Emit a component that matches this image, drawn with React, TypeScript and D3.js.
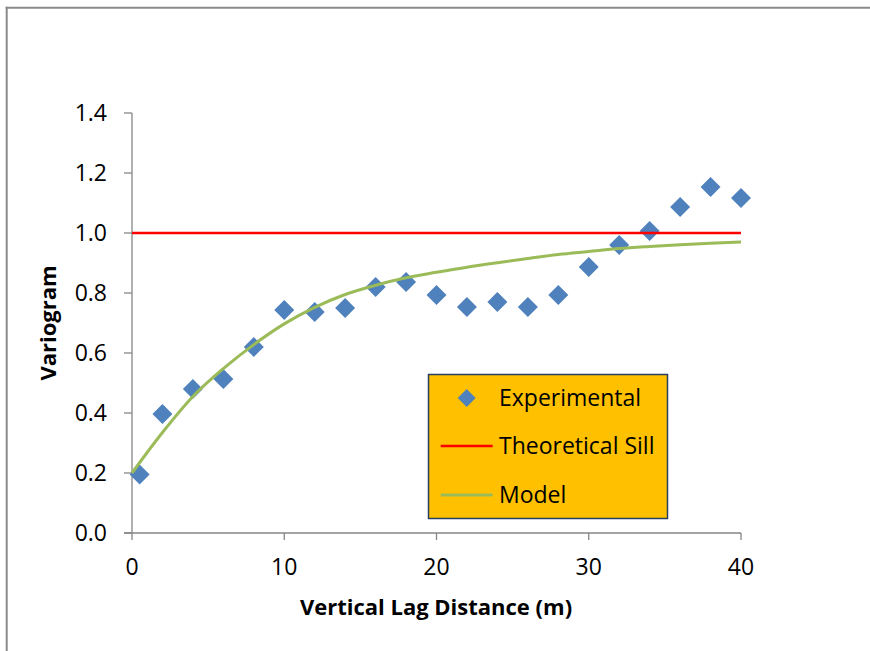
import React from "react";
import * as d3 from "d3";

const lagExp = [0.5, 2, 4, 6, 8, 10, 12, 14, 16, 18, 20, 22, 24, 26, 28, 30, 32, 34, 36, 38, 40];
const gammaExp = [0.195, 0.397, 0.48, 0.513, 0.62, 0.743, 0.737, 0.75, 0.82, 0.837, 0.793, 0.753, 0.77, 0.753, 0.793, 0.887, 0.96, 1.007, 1.087, 1.153, 1.117];

const lagModel = [0, 2, 4, 6, 8, 10, 12, 14, 16, 18, 20, 22, 24, 26, 28, 30, 32, 34, 36, 38, 40];
const gammaModel = [0.2, 0.335, 0.455, 0.548, 0.628, 0.697, 0.752, 0.795, 0.826, 0.851, 0.869, 0.886, 0.901, 0.915, 0.928, 0.938, 0.948, 0.955, 0.961, 0.966, 0.97];

const sillLag = [0, 40];
const sillValue = [1.0, 1.0];

const xTicks = [0, 10, 20, 30, 40];
const yTicks = [0, 0.2, 0.4, 0.6, 0.8, 1.0, 1.2, 1.4];

const legendLabels = ["Experimental", "Theoretical Sill", "Model"];

const W = 870;
const H = 651;
const FONT = "'Open Sans', 'Noto Sans', sans-serif";

export default function App() {
  const x = d3.scaleLinear().domain([0, 40]).range([132, 741]);
  const y = d3.scaleLinear().domain([0, 1.4]).range([533, 113]);

  const modelPath = d3
    .line<number>()
    .x((_, i) => x(lagModel[i]))
    .y((d) => y(d))
    .curve(d3.curveMonotoneX)(gammaModel) as string;

  const sillPath = d3
    .line<number>()
    .x((_, i) => x(sillLag[i]))
    .y((d) => y(d))(sillValue) as string;

  const diamond = (cx: number, cy: number, r: number) =>
    `M${cx},${cy - r}L${cx + r},${cy}L${cx},${cy + r}L${cx - r},${cy}Z`;

  const axisColor = "#868686";
  const blue = "#4F81BD";
  const red = "#FF0000";
  const green = "#9BBB59";

  const lgX = 428.5;
  const lgY = 374.5;
  const lgW = 239;
  const lgH = 144;
  const rows = [398, 446, 495];

  return (
    <svg
      width={W}
      height={H}
      style={{ position: "absolute", left: 0, top: 0, background: "#fff" }}
      fontFamily={FONT}
    >
      <rect x={0} y={0} width={W} height={H} fill="#fff" />
      {/* outer frame */}
      <line x1={6.7} y1={6.7} x2={6.7} y2={H} stroke="#8a8a8a" strokeWidth={2} />
      <line x1={5.7} y1={7.7} x2={W} y2={7.7} stroke="#8a8a8a" strokeWidth={2} />

      {/* axes */}
      <line x1={x(0)} y1={y(1.4)} x2={x(0)} y2={y(0)} stroke={axisColor} strokeWidth={1.3} />
      <line x1={x(0) - 8} y1={y(0)} x2={x(40)} y2={y(0)} stroke={axisColor} strokeWidth={1.3} />
      {yTicks.map((t) => (
        <g key={"y" + t}>
          <line x1={x(0) - 8} x2={x(0)} y1={y(t)} y2={y(t)} stroke={axisColor} strokeWidth={1.3} />
          <text x={107} y={y(t)} dy="0.35em" textAnchor="end" fontSize={23} fill="#000">
            {t.toFixed(1)}
          </text>
        </g>
      ))}
      {xTicks.map((t) => (
        <g key={"x" + t}>
          <line x1={x(t)} x2={x(t)} y1={y(0)} y2={y(0) + 7} stroke={axisColor} strokeWidth={1.3} />
          <text x={x(t)} y={567} dy="0.35em" textAnchor="middle" fontSize={23} fill="#000">
            {t}
          </text>
        </g>
      ))}

      {/* axis titles */}
      <text x={436} y={607} dy="0.35em" textAnchor="middle" fontSize={22} fontWeight="bold" fill="#000">
        Vertical Lag Distance (m)
      </text>
      <text
        transform={`translate(48,323) rotate(-90)`}
        dy="0.35em"
        textAnchor="middle"
        fontSize={22}
        fontWeight="bold"
        fill="#000"
      >
        Variogram
      </text>

      {/* experimental points */}
      {gammaExp.map((g, i) => (
        <path key={"p" + i} d={diamond(x(lagExp[i]), y(g), 10)} fill={blue} />
      ))}

      {/* sill */}
      <path d={sillPath} fill="none" stroke={red} strokeWidth={2.5} />
      {/* model */}
      <path d={modelPath} fill="none" stroke={green} strokeWidth={3} />

      {/* legend */}
      <rect x={lgX} y={lgY} width={lgW} height={lgH} fill="#FFC000" stroke="#243F60" strokeWidth={1.5} />
      <path d={diamond(466.7, rows[0], 9)} fill={blue} />
      <line x1={440.7} x2={492.7} y1={rows[1]} y2={rows[1]} stroke={red} strokeWidth={2.5} />
      <line x1={440.7} x2={492.7} y1={rows[2]} y2={rows[2]} stroke={green} strokeWidth={3} />
      {legendLabels.map((l, i) => (
        <text key={l} x={499} y={rows[i]} dy="0.35em" fontSize={23} fill="#000">
          {l}
        </text>
      ))}
    </svg>
  );
}
